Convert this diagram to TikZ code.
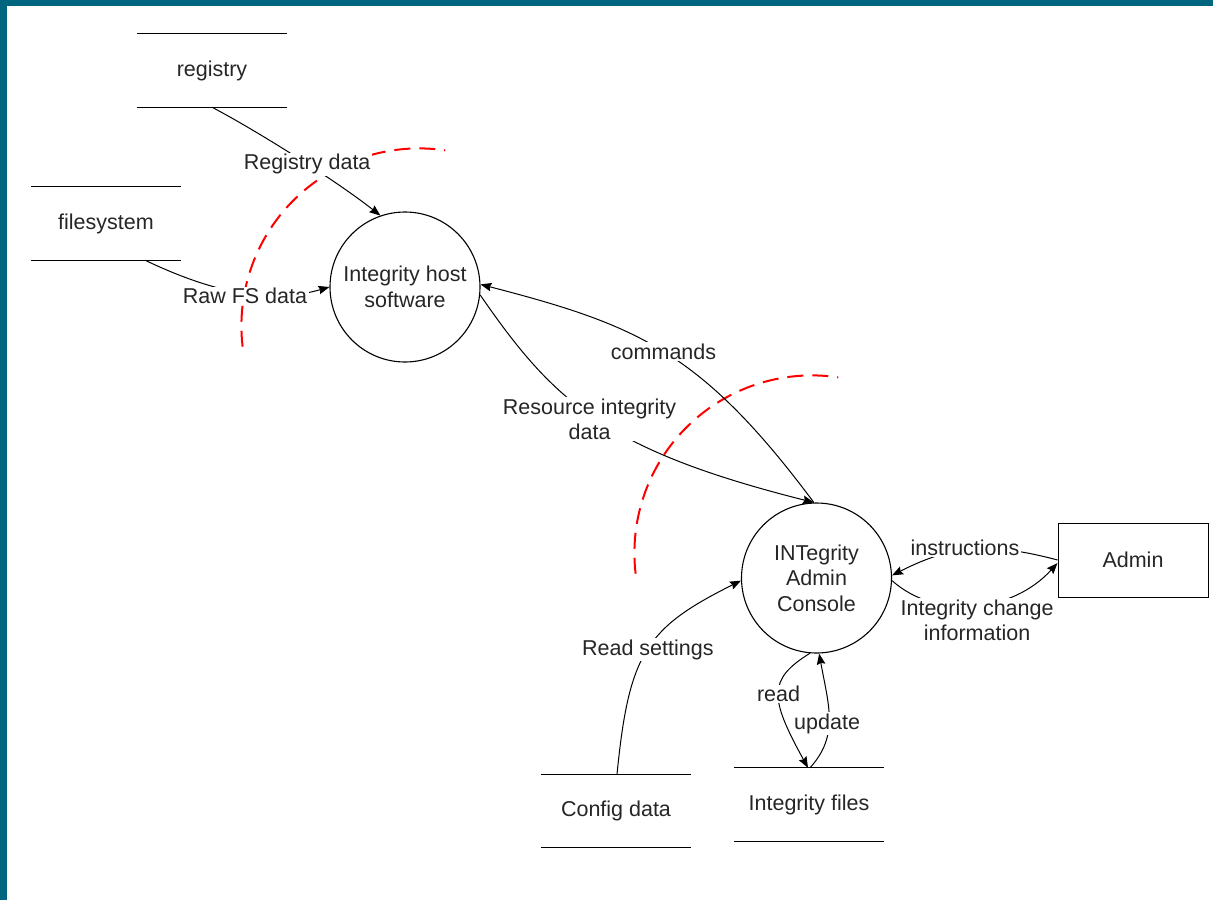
\documentclass[tikz,border=0pt]{standalone}
\usepackage{fontspec}
\setmainfont{Liberation Sans}
\usetikzlibrary{arrows.meta}
\definecolor{framecol}{HTML}{006680}
\definecolor{ink}{HTML}{262626}
\begin{document}
\begin{tikzpicture}[x=1pt,y=-1pt,
  every node/.style={font=\fontsize{21.5pt}{25.5pt}\selectfont, text=ink},
  proc/.style={circle, draw=black, line width=1.1pt, minimum size=150pt, inner sep=0pt, align=center},
  store/.style={minimum width=150pt, minimum height=73pt, inner sep=0pt},
  storeline/.style={draw=black, line width=1.3pt},
  ext/.style={draw=black, line width=1pt, minimum width=150pt, minimum height=74pt, inner sep=0pt},
  flow/.style={draw=black, line width=1pt, -{Stealth[length=11pt,width=8.5pt,inset=1.5pt]}},
  lbl/.style={fill=white, inner sep=1.5pt, align=center},
  bound/.style={draw=red, line width=2pt, dash pattern=on 16pt off 9pt}
]
% page and frame
\useasboundingbox (0,0) rectangle (1213,900);
\fill[white] (0,0) rectangle (1213,900);
\fill[framecol] (0,0) rectangle (1213,6);
\fill[framecol] (0,0) rectangle (7,900);

% data stores
\node[store] (reg) at (212,70.5) {registry};
\node[store] (fs)  at (106,223.5) {filesystem};
\node[store] (cfg) at (616,811) {Config data};
\node[store] (intf) at (809,804.5) {Integrity files};
\foreach \s in {reg,fs,cfg,intf}{
  \draw[storeline] (\s.north west) -- (\s.north east);
  \draw[storeline] (\s.south west) -- (\s.south east);
}

% processes and external entity
\node[proc] (h1) at (405,287) {Integrity host\\software};
\node[proc] (h2) at (816.5,578) {INTegrity\\Admin\\Console};
\node[ext] (admin) at (1133,560) {Admin};

% trust boundaries
\draw[bound] (242.6,346.7) arc[start angle=186.7, end angle=81.5, radius=177.6pt];
\draw[bound] (635.6,573.7) arc[start angle=186.7, end angle=81.5, radius=177.6pt];

% data flows
\draw[flow] (reg.south) .. controls (260.5,132.9) and (336.7,181.2) .. (h1.109)
  node[lbl, pos=0.55] {Registry data};
\draw[flow] ([xshift=39pt]fs.south) .. controls (220.5,296.2) and (274.5,302.9) .. (h1.180)
  node[lbl, pos=0.5, yshift=-3pt] {Raw FS data};
\draw[flow] (h2.92) .. controls (701,351) and (637,325) .. (h1.2)
  node[lbl, pos=0.5] {commands};
\draw[flow] (h1.-6) .. controls (554,402) and (605.5,450) .. (h2.92)
  node[lbl, pos=0.5, xshift=-7pt] {Resource integrity\\data};
\draw[flow] ([xshift=1pt]cfg.north) .. controls (629,653) and (646,628) .. (h2.182)
  node[lbl, pos=0.5] {Read settings};
\draw[flow] (h2.265) .. controls (767.6,679.6) and (769.3,697.4) .. ([xshift=-1pt]intf.north)
  node[lbl, pos=0.5] {read};
\draw[flow] ([xshift=1pt]intf.north) .. controls (839.4,735.3) and (828.5,705.4) .. (h2.272)
  node[lbl, pos=0.5, xshift=-2pt, yshift=-6pt] {update};
\draw[flow] (admin.west) .. controls (984,540.3) and (947.6,547.3) .. (h2.2)
  node[lbl, pos=0.5, xshift=-3pt, yshift=2pt] {instructions};
\draw[flow] (h2.-2) .. controls (937.6,621) and (1012.8,612.3) .. ([yshift=-3pt]admin.west)
  node[lbl, pos=0.5, xshift=2pt, yshift=-15pt] {Integrity change\\information};
\end{tikzpicture}
\end{document}
